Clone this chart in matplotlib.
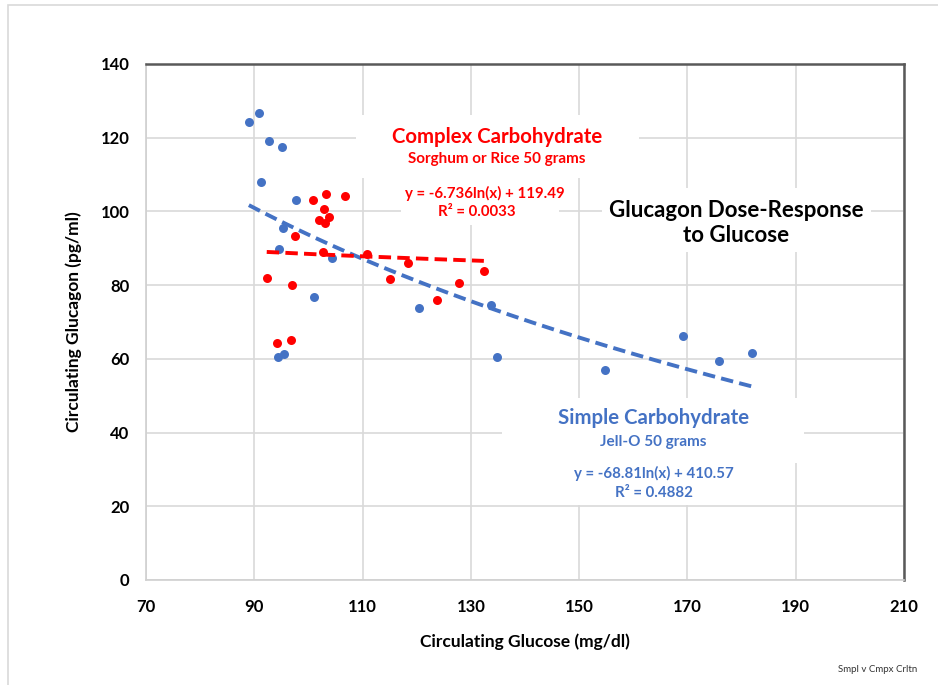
import numpy as np
import matplotlib.pyplot as plt
from matplotlib.patches import Rectangle

plt.rcParams['font.family'] = ['Lato', 'DejaVu Sans']

# Simple carbohydrate (Jell-O) - blue
simple_glucose = [89.0, 90.9, 92.7, 95.1, 91.2, 97.7, 95.3, 94.6, 104.4, 101.0,
                  94.4, 95.5, 120.4, 133.7, 134.8, 154.8, 169.2, 175.8, 181.9]
simple_glucagon = [124.3, 126.7, 119.1, 117.5, 108.0, 103.1, 95.5, 89.8, 87.4, 76.8,
                   60.5, 61.3, 73.8, 74.6, 60.5, 57.0, 66.2, 59.4, 61.6]

# Complex carbohydrate (sorghum / rice) - red
complex_glucose = [100.8, 103.2, 106.8, 102.9, 103.8, 102.0, 103.1, 97.5, 102.7, 110.8,
                   92.3, 97.0, 94.2, 96.8, 115.1, 118.4, 123.7, 127.8, 132.4]
complex_glucagon = [103.1, 104.7, 104.2, 100.6, 98.5, 97.7, 96.9, 93.3, 89.0, 88.4,
                    81.9, 80.0, 64.3, 65.1, 81.7, 86.0, 76.0, 80.6, 83.8]

# log trendline coefficients shown on the chart
simple_a, simple_b = -68.81, 410.57
complex_a, complex_b = -6.736, 119.49

blue = '#4472C4'
red = '#FF0000'

fig = plt.figure(figsize=(9.38, 6.85), dpi=100)
ax = fig.add_axes([146/938, 1-580/685, (904-146)/938, (580-64)/685])

# outer chart border (cropped)
fig.patches.append(Rectangle((8/938, -0.1), 1.2, 1-5/685+0.1, transform=fig.transFigure,
                             fill=False, edgecolor='#d9d9d9', lw=1.2))

ax.set_xlim(70, 210)
ax.set_ylim(0, 140)
ax.set_xticks(np.arange(70, 211, 20))
ax.set_yticks(np.arange(0, 141, 20))
ax.grid(True, color='#d9d9d9', lw=1.2, zorder=0)
ax.set_axisbelow(True)
ax.tick_params(length=0, labelsize=12)
ax.tick_params(axis='x', pad=14)
ax.tick_params(axis='y', pad=12)
for lab in ax.get_xticklabels() + ax.get_yticklabels():
    lab.set_fontweight('bold')
ax.spines['top'].set_color('#595959')
ax.spines['right'].set_color('#595959')
ax.spines['top'].set_linewidth(1.8)
ax.spines['right'].set_linewidth(1.8)
ax.spines['left'].set_color('#d0d0d0')
ax.spines['bottom'].set_color('#d0d0d0')
ax.spines['left'].set_linewidth(1.2)
ax.spines['bottom'].set_linewidth(1.2)

ax.set_xlabel('Circulating Glucose (mg/dl)', fontsize=12.5, fontweight='bold', labelpad=13)
ax.set_ylabel('Circulating Glucagon (pg/ml)', fontsize=12.5, fontweight='bold', labelpad=13)

# white boxes behind the text blocks (hide gridlines like the original)
boxes = [(108.8, 109.1, 52.2, 17.1), (117.1, 96.3, 29.2, 12.8),
         (135.8, 31.7, 55.7, 17.7), (138.9, 20.3, 49.9, 11.4),
         (154.2, 89.0, 49.7, 17.3)]
for bx, by, bw, bh in boxes:
    ax.add_patch(Rectangle((bx, by), bw, bh, facecolor='white', edgecolor='none', zorder=1))

ax.scatter(simple_glucose, simple_glucagon, s=42, color=blue, zorder=3, linewidths=0)
ax.scatter(complex_glucose, complex_glucagon, s=42, color=red, zorder=3, linewidths=0)

xs = np.linspace(min(simple_glucose), max(simple_glucose), 200)
ax.plot(xs, simple_a*np.log(xs) + simple_b, color=blue, lw=2.8, dashes=(3.2, 1.6), zorder=4)
xc = np.linspace(min(complex_glucose), max(complex_glucose), 200)
ax.plot(xc, complex_a*np.log(xc) + complex_b, color=red, lw=2.8, dashes=(3.2, 1.6), zorder=4)

def px(x, y):
    return x/938, 1-y/685

fig.text(*px(497, 137), 'Complex Carbohydrate', color=red, fontsize=14.7, fontweight='bold',
         ha='center', va='center')
fig.text(*px(497, 159), 'Sorghum or Rice 50 grams', color=red, fontsize=11, fontweight='bold',
         ha='center', va='center')
fig.text(*px(485, 193), 'y = -6.736ln(x) + 119.49', color=red, fontsize=10.8, fontweight='bold',
         ha='center', va='center')
fig.text(*px(477, 212), 'R² = 0.0033', color=red, fontsize=10.8, fontweight='bold',
         ha='center', va='center')

fig.text(*px(654, 418), 'Simple Carbohydrate', color=blue, fontsize=14.7, fontweight='bold',
         ha='center', va='center')
fig.text(*px(653, 442), 'Jell-O 50 grams', color=blue, fontsize=11, fontweight='bold',
         ha='center', va='center')
fig.text(*px(654, 473), 'y = -68.81ln(x) + 410.57', color=blue, fontsize=10.8, fontweight='bold',
         ha='center', va='center')
fig.text(*px(654, 493), 'R² = 0.4882', color=blue, fontsize=10.8, fontweight='bold',
         ha='center', va='center')

fig.text(*px(736, 223), 'Glucagon Dose-Response\nto Glucose', color='black', fontsize=16,
         fontweight='bold', ha='center', va='center', linespacing=1.2)

fig.text(*px(878, 670), 'Smpl v Cmpx Crltn', fontsize=7, ha='center', va='center', color='#333333')

fig.savefig('out.png', dpi=100)
